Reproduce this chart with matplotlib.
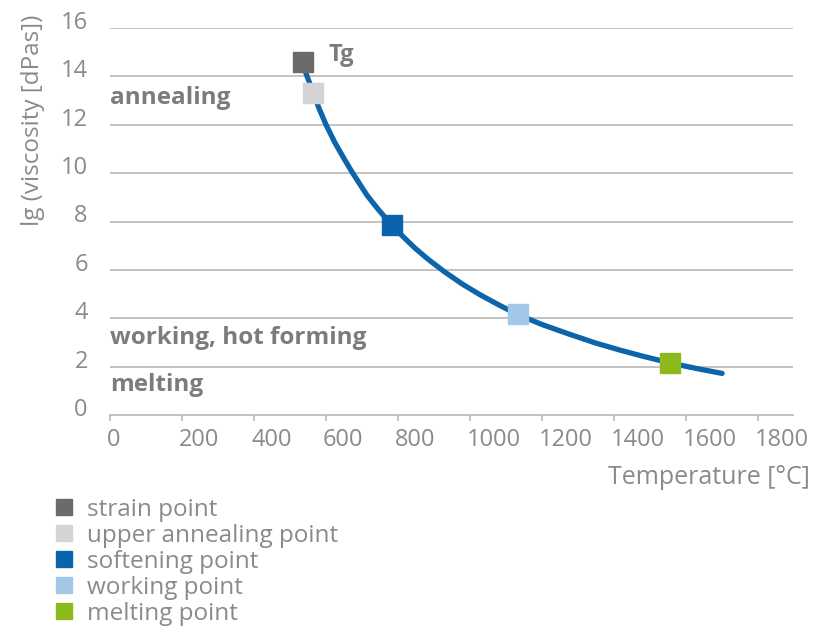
import matplotlib
matplotlib.use("Agg")
import matplotlib.pyplot as plt
from matplotlib.lines import Line2D
from matplotlib.transforms import ScaledTranslation

plt.rcParams['font.family'] = ['Open Sans', 'DejaVu Sans']

# viscosity curve (temperature in °C, lg viscosity in dPas)
curve_temp = [540, 560, 580, 600, 625, 650, 672, 714, 745, 783, 815, 847, 885, 931, 980,
              1028, 1080, 1133, 1200, 1278, 1350, 1417, 1480, 1556, 1630, 1700]
curve_visc = [14.3, 13.5, 12.7, 12.0, 11.25, 10.6, 10.05, 9.08, 8.5, 7.85, 7.36, 6.9, 6.42,
              5.9, 5.4, 4.97, 4.55, 4.15, 3.74, 3.33, 2.97, 2.68, 2.43, 2.15, 1.92, 1.72]

# fixed points
point_names = ['strain point', 'upper annealing point', 'softening point',
               'working point', 'melting point']
point_temp = [536, 564, 783, 1133, 1556]
point_visc = [14.6, 13.3, 7.85, 4.17, 2.15]
point_colors = ['#6b6b6b', '#d4d4d6', '#0b62ad', '#a3c7e8', '#8cba1c']

# region labels
region_names = ['annealing', 'working, hot forming', 'melting']
region_visc = [13.1, 3.2, 1.25]

x_ticks = [0, 200, 400, 600, 800, 1000, 1200, 1400, 1600, 1800]
y_ticks = [0, 2, 4, 6, 8, 10, 12, 14, 16]

text_gray = '#8a8a8a'
label_gray = '#7c7c7c'
grid_gray = '#b8b8b8'
line_blue = '#0c65aa'

fig = plt.figure(figsize=(8.16, 6.27), dpi=100)
ax = fig.add_axes([110 / 816, 1 - 415 / 627, 683 / 816, 387 / 627])

ax.set_xlim(0, 1897)
ax.set_ylim(0, 16)

# grid lines
for y in y_ticks[1:]:
    ax.axhline(y, color=grid_gray, lw=1.2, zorder=1)

ax.plot(curve_temp, curve_visc, color=line_blue, lw=3.8,
        solid_capstyle='round', solid_joinstyle='round', zorder=3)

for t, v, c in zip(point_temp, point_visc, point_colors):
    ax.plot(t, v, marker='s', ms=14, color=c, mec=c, ls='none', zorder=4)

for name, v in zip(region_names, region_visc):
    ax.text(0, v, name, fontsize=17.5, fontweight='bold', color=label_gray,
            ha='left', va='center')
ax.text(606, 14.9, 'Tg', fontsize=17, fontweight='bold', color=label_gray,
        ha='left', va='center')

# axes styling
for side in ['top', 'right', 'left']:
    ax.spines[side].set_visible(False)
ax.spines['bottom'].set_color(grid_gray)
ax.spines['bottom'].set_linewidth(1.2)

ax.set_xticks(x_ticks)
ax.set_yticks(y_ticks)
ax.tick_params(axis='x', direction='out', length=4, width=1.2, color=grid_gray,
               labelsize=17, labelcolor=text_gray, pad=5)
ax.tick_params(axis='y', length=0, labelsize=17, labelcolor=text_gray, pad=16)
for lab in ax.get_xticklabels():
    lab.set_ha('left')
    lab.set_transform(lab.get_transform() + ScaledTranslation(-0.03, 0, fig.dpi_scale_trans))
for lab in ax.get_yticklabels():
    lab.set_transform(lab.get_transform() + ScaledTranslation(0, 0.08, fig.dpi_scale_trans))

fig.text(33 / 816, 1 - 120 / 627, 'lg (viscosity [dPas])', rotation=90,
         fontsize=17.5, color=text_gray, ha='center', va='center')
fig.text(810 / 816, 1 - 477 / 627, 'Temperature [°C]', fontsize=18,
         color=text_gray, ha='right', va='center')

handles = [Line2D([], [], marker='s', ls='none', ms=11, color=c, mec=c)
           for c in point_colors]
fig.legend(handles, point_names, loc='upper left',
           bbox_to_anchor=(52 / 816, 1 - 498 / 627), frameon=False,
           fontsize=17.5, labelcolor=text_gray, handlelength=1.0,
           handletextpad=0.44, labelspacing=0.08, borderpad=0, borderaxespad=0)

fig.savefig('out.png', dpi=100, facecolor='white')
